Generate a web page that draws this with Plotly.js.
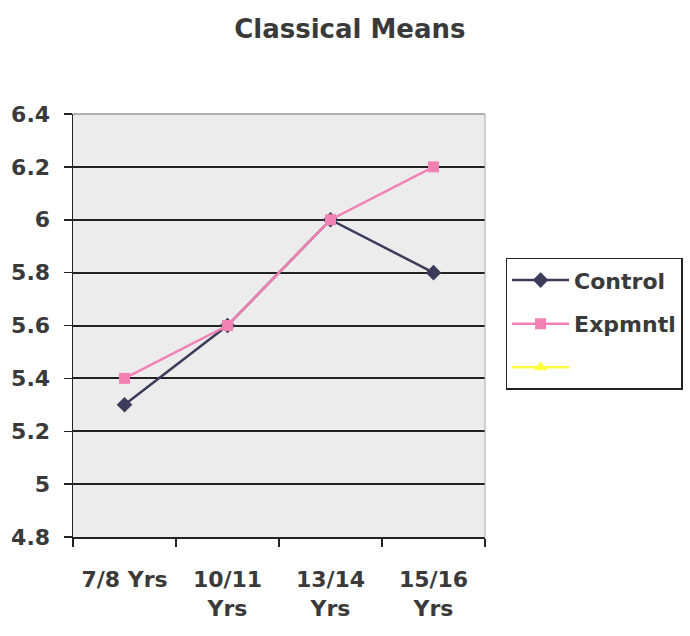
<!DOCTYPE html>
<html><head><meta charset="utf-8">
<script src="https://cdn.plot.ly/plotly-3.0.1.min.js"></script>
<style>body{margin:0;background:#fff}#c{width:690px;height:636px}</style>
</head><body><div id="c"></div>
<script>
var categories = ["7/8 Yrs", "10/11<br>Yrs", "13/14<br>Yrs", "15/16<br>Yrs"];
var control = [5.3, 5.6, 6.0, 5.8];
var expmntl = [5.4, 5.6, 6.0, 6.2];
var third = [null, null, null, null];
var yTicks = [4.8, 5, 5.2, 5.4, 5.6, 5.8, 6, 6.2, 6.4];

var FAM = "DejaVu Sans, Verdana, sans-serif";
var tf = {family: FAM, size: 22, color: "#3a3a3a", weight: "bold"};
var data = [
  {x: categories, y: control, name: "Control", mode: "lines+markers", legendgroup: "a",
   line: {color: "#3c3c5a", width: 2.5}, marker: {symbol: "diamond", size: 12, color: "#3c3c5a"}},
  {x: categories, y: expmntl, name: "Expmntl", mode: "lines+markers", legendgroup: "b",
   line: {color: "#f282b4", width: 2.5}, marker: {symbol: "square", size: 11, color: "#f282b4"}},
  {x: categories, y: third, name: " ", mode: "lines+markers", legendgroup: "c", showlegend: true,
   line: {color: "#ffff40", width: 2.5}, marker: {symbol: "triangle-up", size: 12, color: "#ffff40"}}
];
var layout = {
  width: 690, height: 636,
  margin: {l: 73, r: 205, t: 114, b: 99, autoexpand: false},
  paper_bgcolor: "#fff", plot_bgcolor: "#ececec",
  font: tf,
  title: {text: "<b>Classical Means</b>", x: 0.507, xanchor: "center", y: 0.955, yanchor: "middle",
          font: {family: FAM, size: 26, color: "#3a3a3a"}},
  xaxis: {type: "category", tickson: "boundaries", ticks: "outside", ticklen: 8, tickcolor: "#222", tickwidth: 1.5,
          showline: true, linecolor: "#222", linewidth: 1.5, showgrid: false, automargin: false,
          tickfont: tf, ticklabelstandoff: 22, range: [-0.5, 3.5]},
  yaxis: {range: [4.8, 6.4], tickvals: yTicks, ticktext: yTicks.map(String), ticks: "outside", ticklen: 8,
          tickcolor: "#222", tickwidth: 1.5, showline: true, linecolor: "#222", linewidth: 1.5,
          showgrid: true, gridcolor: "#222", gridwidth: 2, zeroline: false, automargin: false,
          tickfont: tf, ticklabelstandoff: 9},
  shapes: [
    {type: "line", xref: "paper", yref: "paper", x0: 0, x1: 1, y0: 1, y1: 1, line: {color: "#999", width: 1.5}},
    {type: "line", xref: "paper", yref: "paper", x0: 1, x1: 1, y0: 0, y1: 1, line: {color: "#aaa", width: 1}}
  ],
  legend: {x: 1.05, xanchor: "left", y: 0.66, yanchor: "top", bgcolor: "#fff",
           bordercolor: "#222", borderwidth: 1.5, tracegroupgap: 12, itemwidth: 57,
           font: {family: FAM, size: 22, color: "#3a3a3a", weight: "bold"}},
  showlegend: true
};
Plotly.newPlot("c", data, layout, {displayModeBar: false, staticPlot: true});
</script></body></html>
